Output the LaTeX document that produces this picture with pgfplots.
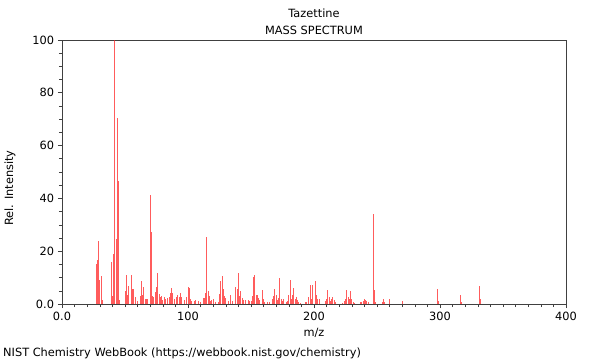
\documentclass[border=0pt]{standalone}
\usepackage{fontspec}
\setmainfont{DejaVu Sans}
\usepackage{pgfplots}
\pgfplotsset{compat=1.18}
\usepackage{pgfplotstable}
\pgfplotstableread{
mz int
27 15.3
28 16.8
29 23.8
30 9.0
31 10.5
32 1.6
39 15.8
40 2.9
41 18.8
42 100
43 24.8
44 70.6
45 46.5
46 1.4
50 4.8
51 10.9
52 3.3
53 6.7
55 10.9
56 5.8
57 5.5
58 2.8
60 1.3
62 3.0
63 8.6
64 3.4
65 6.3
66 1.9
67 1.9
68 2.0
70 41.3
71 27.1
72 3.2
73 2.5
74 4.7
75 6.3
76 11.6
77 3.7
78 2.5
79 3.2
80 1.5
81 2.5
82 1.9
84 2.1
85 2.8
86 4.0
87 5.9
88 4.0
89 1.9
91 2.5
92 3.4
93 2.8
94 4.0
95 2.5
97 1.5
99 2.8
100 6.3
101 5.9
102 1.9
103 1.3
105 1.3
106 1.5
108 1.1
110 0.9
112 2.1
113 2.1
114 4.0
115 25.5
116 4.9
117 3.2
118 1.1
119 1.5
120 1.9
122 0.6
124 0.6
125 3.8
126 8.7
127 10.6
128 5.6
129 3.0
130 2.1
132 1.1
134 3.4
135 1.1
138 6.6
139 5.6
140 11.6
141 3.0
142 5.0
143 2.1
144 1.5
146 1.5
148 1.5
149 1.1
150 1.0
151 3.0
152 10.4
153 11.0
154 3.4
155 3.4
156 2.1
157 1.5
159 5.3
160 1.8
161 0.9
163 0.9
165 0.9
167 1.8
168 3.0
169 5.6
170 3.4
171 1.5
172 2.1
173 9.7
174 1.8
175 1.3
176 1.8
178 0.9
179 1.1
180 3.4
181 9.1
182 1.8
183 3.4
184 5.9
185 1.8
186 2.8
187 1.5
188 0.9
189 0.5
193 0.6
194 0.9
196 2.8
197 7.2
198 1.8
199 7.2
201 8.8
202 3.4
203 1.8
204 1.8
209 1.3
210 1.8
211 5.3
212 2.8
213 1.3
214 1.8
215 2.5
216 1.5
217 0.9
223 0.5
224 1.3
225 1.8
226 5.3
227 2.5
228 1.8
229 5.0
230 1.8
231 0.9
232 0.5
237 0.7
238 0.9
239 1.3
240 2.0
241 1.5
242 1.3
243 0.8
247 34.1
248 5.3
249 0.6
254 0.6
255 2.0
256 0.9
260 1.9
270 1.3
298 5.8
299 1.3
316 3.3
317 0.8
331 6.8
332 1.8
}\spectrum
\begin{document}
\fontsize{11.4}{13.5}\selectfont
\begin{tikzpicture}[x=1bp,y=1bp]
\path[use as bounding box] (0bp,0bp) rectangle (600bp,360bp);
\begin{axis}[
  at={(62bp,56bp)}, anchor=south west,
  scale only axis, width=504bp, height=264bp,
  xmin=0, xmax=400, ymin=0, ymax=100,
  axis line style={black!75, line width=0.8pt},
  xtick={0,100,200,300,400},
  xticklabels={0.0,100,200,300,400},
  ytick={0,20,40,60,80,100},
  yticklabels={0.0,20,40,60,80,100},
  minor x tick num=9,
  minor y tick num=3,
  tick align=outside,
  xtick pos=bottom, ytick pos=left,
  major tick length=4bp, minor tick length=3bp,
  tick style={black!75, line width=0.6pt},
  ticklabel style={font=\fontsize{11.4}{13.5}\selectfont},
  /pgf/number format/assume math mode=true,
  clip=true,
]
\addplot[ycomb, color=red!85, line width=1bp, opacity=0.75, mark=none] table[x=mz, y=int] {\spectrum};
\end{axis}
\node[anchor=center] at (314bp,347bp) {Tazettine};
\node[anchor=center] at (314bp,330bp) {MASS SPECTRUM};
\node[anchor=center] at (314bp,27bp) {m/z};
\node[anchor=center, rotate=90] at (10bp,172bp) {Rel. Intensity};
\node[anchor=west, inner sep=0pt] at (3bp,7bp) {NIST Chemistry WebBook (https://webbook.nist.gov/chemistry)};
\end{tikzpicture}
\end{document}
